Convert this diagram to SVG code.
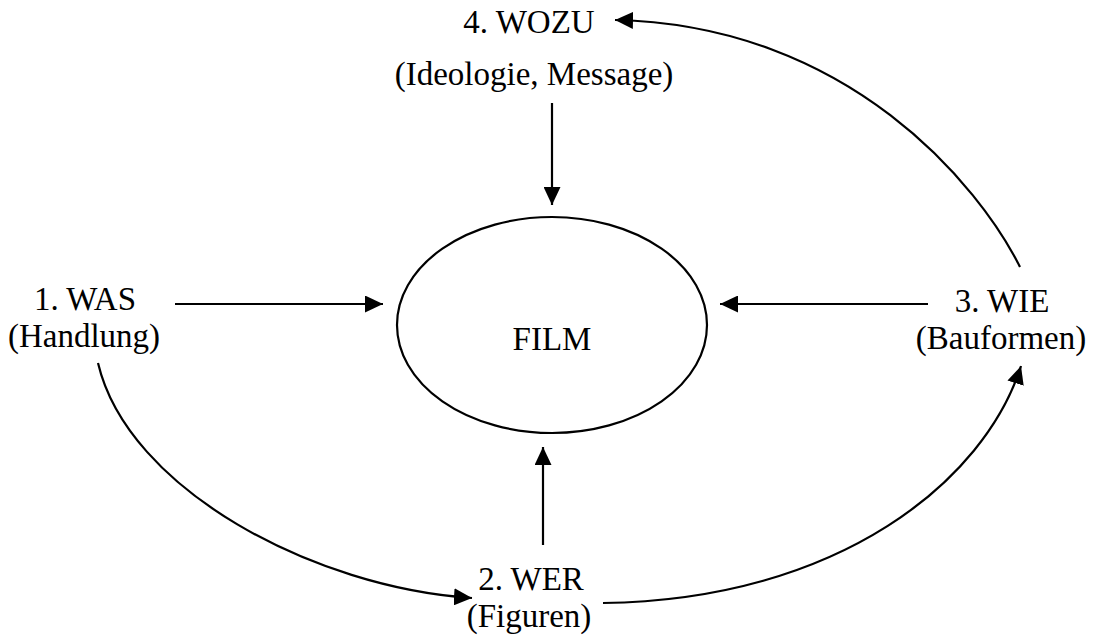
<svg xmlns="http://www.w3.org/2000/svg" width="1095" height="638" viewBox="0 0 1095 638">
<style>
text{font-family:"Liberation Serif","Times New Roman",serif;font-size:33px;fill:#000;text-anchor:middle}
.c{fill:none;stroke:#000;stroke-width:2.2}
</style>
<defs>
<marker id="ah" viewBox="0 0 18 17" refX="18" refY="8.5" markerWidth="18" markerHeight="17" markerUnits="userSpaceOnUse" orient="auto">
<path d="M0,0 L18,8.5 L0,17 Z" fill="#000"/>
</marker>
</defs>
<rect width="1095" height="638" fill="#fff"/>
<g id="film"><ellipse cx="552" cy="325" rx="155" ry="108" fill="none" stroke="#000" stroke-width="2.2"/><text x="552" y="350">FILM</text></g>
<g id="wozu"><text x="529" y="33">4. WOZU</text><text x="534" y="85">(Ideologie, Message)</text></g>
<g id="was"><text x="85" y="310">1. WAS</text><text x="84" y="347">(Handlung)</text></g>
<g id="wie"><text x="1002" y="312">3. WIE</text><text x="1001" y="349">(Bauformen)</text></g>
<g id="wer"><text x="531" y="590">2. WER</text><text x="529" y="627">(Figuren)</text></g>
<g id="connectors">
<path class="c" d="M552,103 L552,205" marker-end="url(#ah)"/>
<path class="c" d="M175,304 L383,304" marker-end="url(#ah)"/>
<path class="c" d="M928,304 L720,304" marker-end="url(#ah)"/>
<path class="c" d="M543,545 L543,447" marker-end="url(#ah)"/>
<path class="c" d="M98,363 C128,490 315,588 472,598" marker-end="url(#ah)"/>
<path class="c" d="M603,603 C840,600 985,480 1021,366" marker-end="url(#ah)"/>
<path class="c" d="M1020,267 C980,187 850,25 615,20" marker-end="url(#ah)"/>
</g>
</svg>
